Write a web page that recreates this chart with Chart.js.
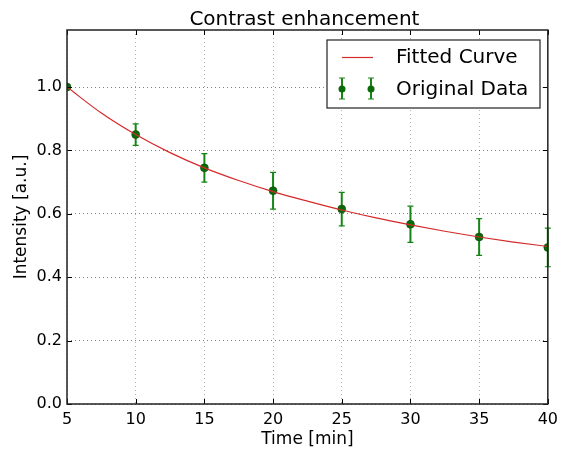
<!DOCTYPE html>
<html>
<head>
<meta charset="utf-8">
<script src="https://cdn.jsdelivr.net/npm/chart.js@4"></script>
<style>
  html, body { margin: 0; padding: 0; background: #fff; }
</style>
</head>
<body>
<canvas id="chart" width="564" height="455"></canvas>
<script>
// measured data points with error bars
const timePoints = [5, 10, 15, 20, 25, 30, 35, 40];
const intensity = [1.000, 0.850, 0.745, 0.673, 0.615, 0.567, 0.527, 0.494];
const intensityErr = [0.000, 0.034, 0.045, 0.058, 0.053, 0.057, 0.058, 0.061];

// fitted curve
const fitTime = [5, 7.5, 10, 12.5, 15, 17.5, 20, 22.5, 25, 27.5, 30, 32.5, 35, 37.5, 40];
const fitValues = [1.000, 0.918, 0.850, 0.793, 0.745, 0.705, 0.670, 0.640, 0.612, 0.587, 0.565, 0.545, 0.527, 0.511, 0.497];

const xTicks = [5, 10, 15, 20, 25, 30, 35, 40];
const yTicks = [0.0, 0.2, 0.4, 0.6, 0.8, 1.0];
const legendLabels = ['Fitted Curve', 'Original Data'];
const chartTitle = 'Contrast enhancement';

const FONT = 'DejaVu Sans';
const lineColor = '#d42a2a';
const markerColor = '#0b6b0b';
const errColor = '#168516';

/**
 * Frame, inward ticks, error bars, title and legend (matplotlib classic look)
 */
const decorations = {
    id: 'decorations',
    beforeDatasetsDraw(chart) {
        const { ctx, scales: { x, y } } = chart;
        ctx.save();
        ctx.strokeStyle = errColor;
        timePoints.forEach((t, i) => {
            if (!intensityErr[i]) return;
            const px = x.getPixelForValue(t);
            const top = y.getPixelForValue(intensity[i] + intensityErr[i]);
            const bot = y.getPixelForValue(intensity[i] - intensityErr[i]);
            ctx.lineWidth = 2;
            ctx.beginPath();
            ctx.moveTo(px, top); ctx.lineTo(px, bot);
            ctx.stroke();
            ctx.lineWidth = 1.2;
            ctx.beginPath();
            ctx.moveTo(px - 3, top); ctx.lineTo(px + 3, top);
            ctx.moveTo(px - 3, bot); ctx.lineTo(px + 3, bot);
            ctx.stroke();
        });
        ctx.restore();
    },
    afterDraw(chart) {
        const { ctx, chartArea: a, scales: { x, y } } = chart;
        ctx.save();
        // ticks pointing inward on all sides
        ctx.strokeStyle = '#000';
        ctx.lineWidth = 1;
        xTicks.forEach(v => {
            const px = Math.round(x.getPixelForValue(v)) + 0.5;
            ctx.beginPath();
            ctx.moveTo(px, a.bottom); ctx.lineTo(px, a.bottom - 5);
            ctx.moveTo(px, a.top); ctx.lineTo(px, a.top + 5);
            ctx.stroke();
        });
        yTicks.forEach(v => {
            const py = Math.round(y.getPixelForValue(v)) + 0.5;
            ctx.beginPath();
            ctx.moveTo(a.left, py); ctx.lineTo(a.left + 5, py);
            ctx.moveTo(a.right, py); ctx.lineTo(a.right - 5, py);
            ctx.stroke();
        });
        // frame
        ctx.strokeStyle = '#222';
        ctx.lineWidth = 1.5;
        ctx.strokeRect(a.left, a.top, a.right - a.left, a.bottom - a.top);

        // title, centred over the axes
        ctx.fillStyle = '#000';
        ctx.font = '20px "' + FONT + '"';
        ctx.textAlign = 'center';
        ctx.textBaseline = 'alphabetic';
        ctx.fillText(chartTitle, (a.left + a.right) / 2 - 3, 25);

        // legend box
        const bx = 327, by = 40, bw = 213, bh = 68;
        ctx.fillStyle = '#fff';
        ctx.fillRect(bx, by, bw, bh);
        ctx.strokeStyle = '#222';
        ctx.lineWidth = 1.2;
        ctx.strokeRect(bx, by, bw, bh);

        ctx.strokeStyle = lineColor;
        ctx.lineWidth = 1.2;
        ctx.beginPath();
        ctx.moveTo(342, 57.5); ctx.lineTo(373, 57.5);
        ctx.stroke();

        [342, 371].forEach(mx => {
            ctx.strokeStyle = errColor;
            ctx.lineWidth = 2;
            ctx.beginPath();
            ctx.moveTo(mx, 78); ctx.lineTo(mx, 99);
            ctx.stroke();
            ctx.lineWidth = 1.2;
            ctx.beginPath();
            ctx.moveTo(mx - 3, 78); ctx.lineTo(mx + 3, 78);
            ctx.moveTo(mx - 3, 99); ctx.lineTo(mx + 3, 99);
            ctx.stroke();
            ctx.fillStyle = markerColor;
            ctx.beginPath();
            ctx.arc(mx, 89, 3.5, 0, Math.PI * 2);
            ctx.fill();
        });

        ctx.fillStyle = '#000';
        ctx.font = '20px "' + FONT + '"';
        ctx.textBaseline = 'middle';
        ctx.textAlign = 'left';
        ctx.fillText(legendLabels[0], 396, 58);
        ctx.fillText(legendLabels[1], 396, 90);
        ctx.restore();
    }
};

new Chart(document.getElementById('chart'), {
    type: 'scatter',
    data: {
        datasets: [
            {
                type: 'line',
                label: legendLabels[0],
                data: fitTime.map((t, i) => ({ x: t, y: fitValues[i] })),
                borderColor: lineColor,
                borderWidth: 1.2,
                pointRadius: 0,
                cubicInterpolationMode: 'monotone',
                fill: false,
                order: 0
            },
            {
                label: legendLabels[1],
                data: timePoints.map((t, i) => ({ x: t, y: intensity[i] })),
                backgroundColor: markerColor,
                borderColor: '#0a3d0a',
                borderWidth: 0.5,
                pointRadius: 4,
                order: 1
            }
        ]
    },
    plugins: [decorations],
    options: {
        responsive: false,
        animation: false,
        events: [],
        layout: { padding: { left: 0, right: 16, top: 30, bottom: 0 } },
        plugins: {
            legend: { display: false },
            tooltip: { enabled: false },
            title: { display: false }
        },
        scales: {
            x: {
                type: 'linear',
                min: 5,
                max: 40,
                afterFit: s => { s.height = 51; },
                afterBuildTicks: s => { s.ticks = xTicks.map(v => ({ value: v })); },
                grid: { color: 'rgba(0,0,0,0.3)', drawTicks: false },
                border: { display: false, dash: [1, 3] },
                ticks: {
                    color: '#000',
                    padding: 6,
                    maxRotation: 0,
                    font: { family: FONT, size: 16 }
                },
                title: {
                    display: true,
                    text: 'Time [min]',
                    color: '#000',
                    font: { family: FONT, size: 17 },
                    padding: { top: 0, bottom: 5 }
                }
            },
            y: {
                type: 'linear',
                min: 0,
                max: 1.18,
                afterFit: s => { s.width = 67; },
                afterBuildTicks: s => { s.ticks = yTicks.map(v => ({ value: v })); },
                grid: { color: 'rgba(0,0,0,0.5)', drawTicks: false },
                border: { display: false, dash: [1, 3] },
                ticks: {
                    color: '#000',
                    padding: 5,
                    font: { family: FONT, size: 16 },
                    callback: v => v.toFixed(1)
                },
                title: {
                    display: true,
                    text: 'Intensity [a.u.]',
                    color: '#000',
                    font: { family: FONT, size: 17 },
                    padding: { top: 11, bottom: 0 }
                }
            }
        }
    }
});
</script>
</body>
</html>
